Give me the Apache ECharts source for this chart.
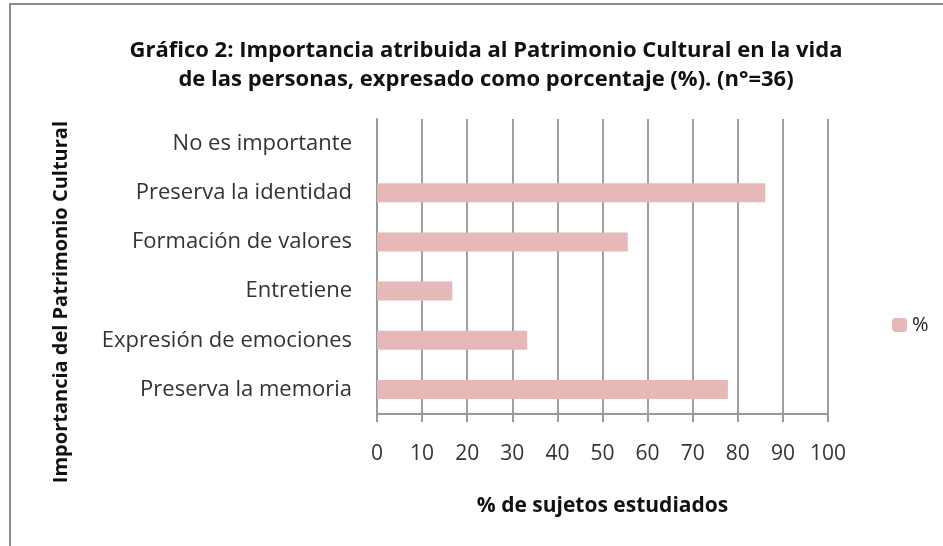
<!DOCTYPE html>
<html>
<head>
<meta charset="utf-8">
<script src="https://cdn.jsdelivr.net/npm/echarts@6/dist/echarts.min.js"></script>
<style>
  html, body { margin: 0; padding: 0; background: #fff; }
  #chart { width: 943px; height: 546px; }
</style>
</head>
<body>
<div id="chart"></div>
<script>
// categorías (de abajo hacia arriba, como las pone el eje de categorías)
const categories = [
  'Preserva la memoria',
  'Expresión de emociones',
  'Entretiene',
  'Formación de valores',
  'Preserva la identidad',
  'No es importante'
]
// porcentaje de sujetos (n=36)
const percentValues = [77.8, 33.3, 16.7, 55.6, 86.1, 0]
const seriesName = '%'
const xTicks = [0, 100, 10]

const FONT = '"Open Sans", "Noto Sans", sans-serif'

const chart = echarts.init(document.getElementById('chart'))
chart.setOption({
  animation: false,
  textStyle: { fontFamily: FONT },
  title: {
    text: 'Gráfico 2: Importancia atribuida al Patrimonio Cultural en la vida\nde las personas, expresado como porcentaje (%). (n°=36)',
    left: 481,
    textAlign: 'center',
    top: 31,
    textStyle: { fontFamily: FONT, fontSize: 22, fontWeight: 'bold', color: '#111', lineHeight: 29 }
  },
  legend: {
    data: [seriesName],
    left: 887,
    top: 310,
    itemWidth: 15,
    itemHeight: 14,
    itemGap: 8,
    textStyle: { fontFamily: FONT, fontSize: 20, color: '#222' }
  },
  graphic: [
    {
      type: 'rect',
      shape: { x: 10, y: 4, width: 960, height: 600 },
      style: { fill: 'none', stroke: '#8c8c8c', lineWidth: 2 },
      silent: true
    },
    {
      type: 'text',
      left: 51,
      top: 121,
      rotation: Math.PI / 2,
      style: {
        text: 'Importancia del Patrimonio Cultural',
        font: 'bold 20px ' + FONT,
        fill: '#111'
      }
    }
  ],
  grid: { left: 377, right: 115, top: 119, bottom: 132 },
  xAxis: {
    type: 'value',
    min: xTicks[0],
    max: xTicks[1],
    interval: xTicks[2],
    name: '% de sujetos estudiados',
    nameLocation: 'middle',
    nameGap: 82,
    nameTextStyle: { fontFamily: FONT, fontSize: 21, fontWeight: 'bold', color: '#111' },
    axisLine: { show: true, lineStyle: { color: '#999', width: 2 } },
    axisTick: { show: true, length: 8, lineStyle: { color: '#999', width: 2 } },
    axisLabel: { margin: 30, fontSize: 21, color: '#333', fontFamily: FONT },
    splitLine: { show: true, lineStyle: { color: '#a0a0a0', width: 2 } }
  },
  yAxis: {
    type: 'category',
    data: categories,
    axisLine: { show: true, lineStyle: { color: '#999', width: 2 } },
    axisTick: { show: false },
    axisLabel: { margin: 25, fontSize: 22, color: '#333', fontFamily: FONT }
  },
  series: [
    {
      name: seriesName,
      type: 'bar',
      data: percentValues,
      barWidth: 19,
      itemStyle: { color: '#e6b8b7' }
    }
  ]
})
</script>
</body>
</html>
